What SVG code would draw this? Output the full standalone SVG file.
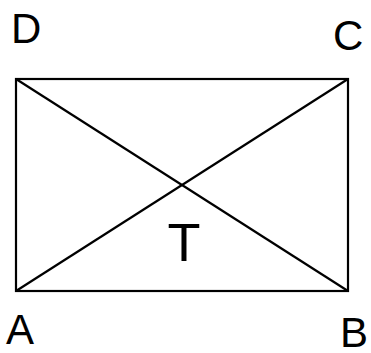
<svg xmlns="http://www.w3.org/2000/svg" width="371" height="353" viewBox="0 0 371 353">
<style>
.ln{stroke:#000;stroke-width:2.2;fill:none}
.lb{font-family:"Liberation Sans",Arial,sans-serif;font-size:42px;fill:#000}
</style>
<rect width="371" height="353" fill="#fff"/>
<g id="rect"><rect class="ln" x="16" y="79" width="332" height="212"/></g>
<g id="connectors">
<line class="ln" x1="16" y1="79" x2="348" y2="291"/>
<line class="ln" x1="16" y1="291" x2="348" y2="79"/>
</g>
<g id="labels">
<text class="lb" x="11" y="43">D</text>
<text class="lb" x="333" y="50">C</text>
<text class="lb" x="6" y="344">A</text>
<text class="lb" x="340" y="347">B</text>
<text class="lb" x="184" y="261" text-anchor="middle" style="font-size:54px">T</text>
</g>
</svg>
